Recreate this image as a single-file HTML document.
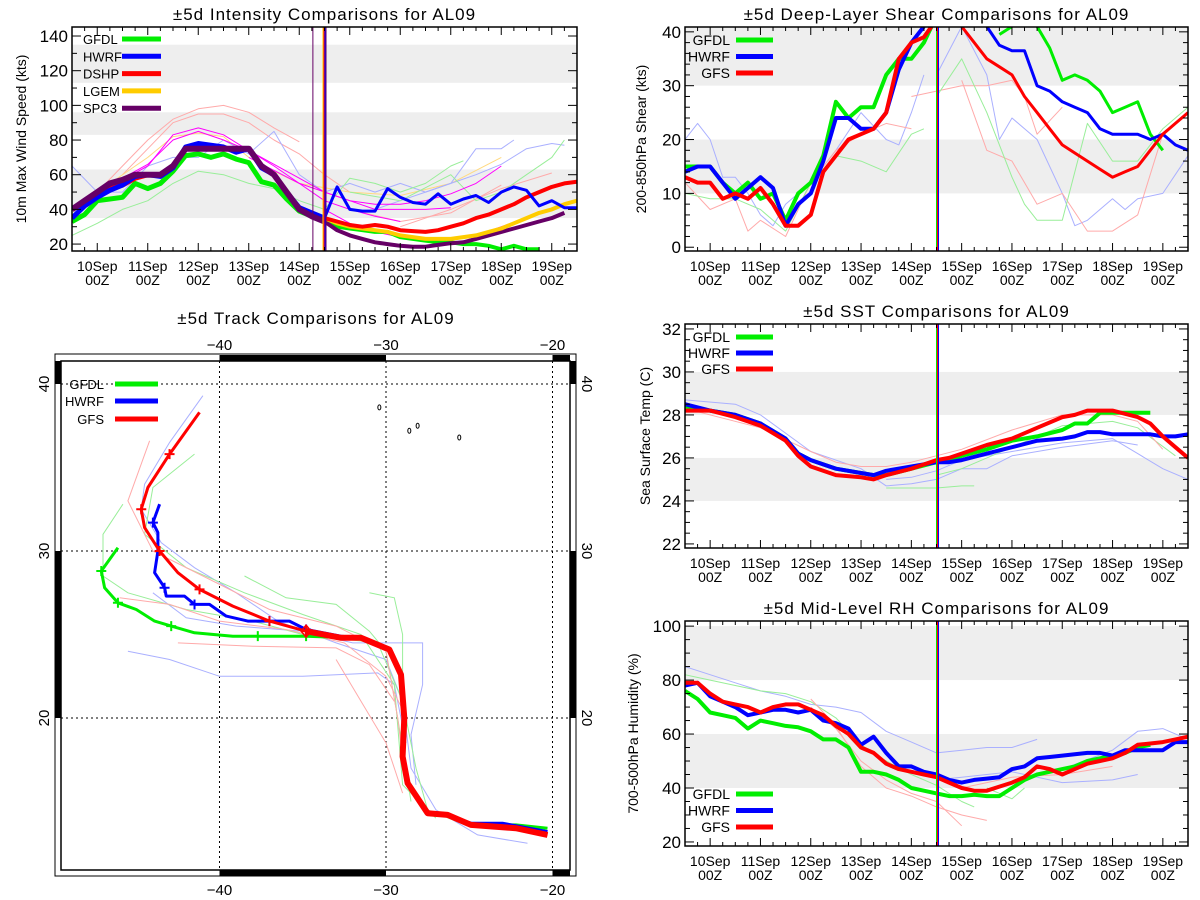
<!DOCTYPE html>
<html><head><meta charset="utf-8"><title>AL09 Comparisons</title>
<style>
html,body{margin:0;padding:0;background:#fff;}
svg{display:block;font-family:"Liberation Sans",sans-serif;}
</style></head>
<body>
<svg id="root" width="1200" height="900" viewBox="0 0 1200 900" xmlns="http://www.w3.org/2000/svg"></svg>
<script>
// ---------- Intensity data (day offset from 10Sep 00Z, kt) ----------
const intDays = [-0.5,-0.25,0,0.25,0.5,0.75,1,1.25,1.5,1.75,2,2.25,2.5,2.75,3,3.25,3.5,3.75,4,4.25,4.5];
const intSPC3Early = [40,45,50,55,57,60,60,60,65,75,75,75,75,75,75,65,60,50,40,36,33];
const intHWRFEarly = [35,42,47,51,54,59,60,59,64,76,78,77,76,73,75,64,60,50,41,38,35];
const intGFDLEarly = [33,37,45,46,47,55,52,55,62,71,72,70,72,69,67,56,54,46,39,36,33];
const intDSHPEarly = [40,45,50,53,54,58,60,60,65,75,75,75,75,75,75,65,60,50,40,36,35];
const intLateDays = [4.5,4.75,5,5.25,5.5,5.75,6,6.25,6.5,6.75,7,7.25,7.5,7.75,8,8.25,8.5,8.75,9,9.25,9.5];
const intHWRFLate = [35,53,40,39,39,52,47,44,43,49,43,46,48,44,50,53,51,42,45,41,41];
const intGFDLLate = [33,30,29,28,27,27,24,23,22,21,21,20,20,19,17,19,17,17,null,null,null];
const intDSHPLate = [35,33,31,30,31,30,28,27.5,27,28,30,32,35,37,40,43,47,50,53,55,56];
const intLGEMLate = [35,32,30,29,28,27,25,24,23,23,23,24,25,27,29,32,35,38,40,43,45];
const intSPC3Late = [33,28,25,23,21,20,19,18.5,18.5,19.5,20.5,21,23,25,27,29,31,33,35,38,null];
const intThinPink = [[[0,50],[0.5,65],[1,80],[1.5,92],[2,98],[2.5,100],[3,96],[3.5,87],[4,79]],
  [[0.5,60],[1,75],[1.5,90],[2,95],[2.5,95],[3,90],[3.5,80],[4,72],[4.5,60],[5,50]],
  [[5,40],[6,33],[7,38],[8,54]],[[6,30],[7,40],[8,52],[9,61]]];
const intThinMagenta = [[[-0.5,40],[0,48],[0.5,57],[1,65],[1.5,83],[2,87],[2.5,83],[3,74],[3.5,65],[4,55],[4.5,45],[5,40],[5.5,36],[6,33]],
  [[0,48],[0.5,58],[1,66],[1.5,80],[2,85],[2.5,80],[3,74],[3.5,66],[4,58],[4.5,50],[5,45],[5.5,43],[6,43],[6.5,45],[7,49],[7.5,55],[8,65]],
  [[4.5,40],[5,32],[5.5,27],[6,24],[6.5,23],[7,23],[7.5,25],[8,30],[8.5,35],[9,40]],
  [[3,70],[4,55],[5,45],[5.5,40],[6,40],[6.5,40],[7,41]]];
const intThinBlue = [[[-0.5,65],[0,50],[0.5,50],[1,65],[1.5,70],[2,70],[2.5,80],[3,72],[3.5,85],[4,60],[4.5,50],[5,55],[5.5,50],[6,55],[6.5,50],[7,55],[7.5,75],[8,75],[8.25,80]],
  [[5.5,40],[6,45],[6.5,50],[7,55],[7.5,60],[8,66],[8.5,75],[9,78],[9.25,77]]];
const intThinGreen = [[[-0.5,25],[0,32],[0.5,40],[1,45],[1.5,55],[2,62],[2.5,60],[3,55],[3.5,52],[4,45],[4.5,40],[5,58],[5.5,55],[6,50],[6.5,55],[7,65],[7.25,68]],
  [[5,50],[6,45],[7,60],[7.5,45],[8,50],[8.5,60],[9,70],[9.25,80]]];
const intThinOrange = [[[0,50],[1,70],[1.5,82],[2,84],[2.5,82],[3,70],[3.5,62],[4,55],[5,50],[6,48],[7,55],[8,70]]];

// ---------- Shear data ----------
const shDaysA = [-0.5,-0.25,0,0.25,0.5,0.75,1,1.25,1.5,1.75,2,2.25,2.5,2.75,3,3.25,3.5,3.75,4,4.25,4.4];
const shGFDLA = [15,15,15,12,10,12,9,10,5,10,12,17,27,24,26,26,32,35,35,38,41];
const shHWRFA = [14,15,15,12,9,11,13,11,4,8,10,16,24,24,22,22,25,33,38,41,null];
const shGFSA  = [13,12,12,9,10,9,11,8,4,4,6,14,17,20,21,22,25,35,38,39,41];
const shDaysB = [5,5.25,5.5,5.75,6,6.25,6.5,6.75,7,7.25,7.5,7.75,8,8.25,8.5,8.75,9,9.25,9.5];
const shGFDLB = [null,null,null,39.5,41,null,41,37,31,32,31,29,25,26,27,21,18,null,null];
const shHWRFB = [null,null,41,37.5,36.5,36.5,30,29,27,26,25,22,21,21,21,20,21,19,18];
const shGFSB  = [41,38,35,33.5,32,28,25,22,19,17.5,16,14.5,13,14,15,18,21,23,25];
const shThinBlue = [[[-0.5,20],[-0.25,23],[0,20],[0.25,13],[0.5,13],[0.75,10],[1,6],[1.25,4],[1.5,8],[2,12],[2.5,18],[3,25],[3.5,20],[3.75,19],[4,25],[4.25,32]],
  [[4.5,32],[5,41],[5.5,32],[5.75,20],[6,24],[6.5,20],[7,10],[7.25,4],[7.5,5],[8,9],[8.25,7],[8.5,9],[9,10],[9.5,17]]];
const shThinRed = [[[-0.5,12],[0,7],[0.5,9],[0.75,3],[1,5],[1.5,2],[2,12],[2.5,18],[3,21],[3.5,23],[4,22]],
  [[4,28],[5,30],[5.5,30],[6,31],[6.25,28],[6.5,21],[7,26]],[[5,31],[5.5,18],[6,16],[6.5,8],[7,10],[7.5,3],[8,3],[8.5,6],[9,21]]];
const shThinGreen = [[[-0.5,10],[0,9],[0.5,9],[1,7],[1.5,3],[2,12],[2.5,17],[3,16],[3.5,14],[4,21],[4.25,22]],
  [[4.5,28],[5,35],[5.5,25],[6,13],[6.25,8],[6.5,5],[7,5],[7.5,23],[8,16],[8.5,16],[9,22],[9.5,26]]];

// ---------- SST data ----------
const sstDays = [-0.5,0,0.5,1,1.5,1.75,2,2.5,3,3.25,3.5,4,4.5,4.75,5,5.5,6,6.5,7,7.25,7.5,7.75,8,8.5,8.75,9,9.25,9.5];
const sstHWRF = [28.5,28.2,28.0,27.6,26.9,26.2,25.9,25.5,25.3,25.2,25.4,25.6,25.8,25.8,25.9,26.2,26.5,26.8,26.9,27.0,27.2,27.2,27.1,27.1,27.1,27.0,27.0,27.1];
const sstGFDL = [28.4,28.2,28.0,27.6,26.9,26.2,25.9,25.5,25.3,25.2,25.2,25.5,25.8,25.9,26.1,26.4,26.8,27.0,27.3,27.6,27.6,28.1,28.1,28.1,28.1,null,null,null];
const sstGFS  = [28.2,28.2,27.9,27.5,26.8,26.1,25.6,25.2,25.1,25.0,25.2,25.5,25.9,26.0,26.2,26.6,26.9,27.4,27.9,28.0,28.2,28.2,28.2,27.9,27.6,27.0,26.5,26.0];
const sstThin = [["#aab0ff",[[-0.5,28.7],[0.5,28.5],[1,28.0],[2,26.3],[3,25.5],[3.5,24.7],[4,24.8],[4.5,25.0],[5,25.5],[5.5,25.5],[6,26.1],[7,26.5],[8,26.8],[8.5,26.6]]],
  ["#aab0ff",[[3.5,25.0],[4,25.1],[4.5,25.4],[5,25.9],[6,26.3],[7,26.7],[8,26.9],[8.5,26.2],[9,25.5],[9.5,25.0]]],
  ["#99ee99",[[3.5,24.6],[4,24.6],[4.5,24.6],[5,24.7],[5.25,24.7]]],
  ["#99ee99",[[4.5,25.2],[5,25.5],[6,26.5],[7,27.5],[8,27.7],[8.5,27.4],[9.25,26.1]]],
  ["#ffaaaa",[[-0.5,28.3],[1,27.4],[2,26.3],[2.5,25.8],[3,25.6],[3.5,25.6],[4,25.8],[5,26.4],[6,27.3],[7,28.0],[8,28.0],[8.5,27.7],[9,26.4]]]];

// ---------- RH data ----------
const rhDays = [-0.5,-0.25,0,0.25,0.5,0.75,1,1.25,1.5,1.75,2,2.25,2.5,2.75,3,3.25,3.5,3.75,4,4.25,4.5,4.75,5,5.25,5.5,5.75,6,6.25,6.5,6.75,7,7.25,7.5,7.75,8,8.25,8.5,8.75,9,9.25,9.5];
const rhGFDL = [76,73,68,67,66,62,65,64,63,62.5,61,58,58,55,46,46,45,43,40,39,38,37,37,37.5,37,37,40,43,45,46,47,48,50,51,52,53,55,56,null,null,null];
const rhHWRF = [78,79,74,72,70,67,68,69,69,68,69,65,64,62,56,59,53,48,48,46,45,43,42,43,43.5,44,47,48,51,51.5,52,52.5,53,53,52,54,54,54,54,57,57];
const rhGFS  = [79,79,75,72,71,70,68,70,71,71,69,67,63,60,55,53,49,47,46,45,44,42,40,39,39,40.5,42,44,48,47,45,47,49,50,51,53,56,56.5,57,58,59];
const rhThin = [["#aab0ff",[[-0.5,85],[0,82],[0.5,79],[1,76],[1.5,74],[2,71],[2.5,70],[3,68],[3.5,61],[4,57],[4.5,53],[5,54],[5.5,55],[6,55],[6.5,58]]],
  ["#aab0ff",[[4.5,43],[5,44],[6,46],[7,42],[8,43],[8.5,45]]],
  ["#aab0ff",[[7,47],[8,54],[8.5,61],[9,62],[9.5,58]]],
  ["#99ee99",[[-0.5,82],[0,80],[0.5,78],[1,76],[1.5,75],[2,72],[2.5,66],[3,56],[3.5,50],[4,45],[4.5,41],[5,35],[5.25,33]]],
  ["#99ee99",[[5.5,40],[6,36],[6.25,40]]],
  ["#ffaaaa",[[2,70],[2.5,62],[3,50],[3.5,43],[4,38],[4.5,35],[5,26]]],
  ["#ffaaaa",[[2,73],[2.5,63],[3,48],[3.5,40],[4,37],[4.5,33],[5,30],[5.5,28]]],
  ["#ffaaaa",[[5,40],[6,44],[7,45],[8,48]]]];

// ---------- Track data (lon, lat) ----------
const trkGFS = [[-41.2,38.3],[-43.0,35.8],[-44.3,33.8],[-44.7,32.5],[-44.5,31.4],[-43.6,30.0],[-42.5,28.7],[-41.2,27.7],[-39.2,26.7],[-37.0,25.8],[-34.8,25.2],[-32.7,24.8],[-31.5,24.8],[-29.8,24.1],[-29.1,22.6],[-28.9,20.0],[-29.0,17.7],[-28.7,16.1],[-27.5,14.3],[-26.3,14.2],[-24.9,13.6],[-22.2,13.4],[-20.3,13.0]];
const trkHWRF = [[-43.6,32.8],[-44.0,31.7],[-43.7,31.1],[-43.7,30.0],[-43.9,28.7],[-43.3,27.8],[-43.2,27.3],[-42.1,27.3],[-41.5,26.8],[-40.6,26.8],[-39.6,26.1],[-38.3,25.8],[-35.8,25.8],[-34.8,25.3],[-32.7,24.9],[-31.5,24.8],[-29.8,24.1],[-29.1,22.6],[-28.9,20.0],[-29.0,17.7],[-28.7,16.1],[-27.5,14.3],[-26.3,14.2],[-24.9,13.7],[-23.0,13.7],[-20.3,13.2]];
const trkGFDL = [[-46.1,30.2],[-47.1,28.8],[-46.9,27.8],[-46.1,26.9],[-45.0,26.5],[-43.9,25.8],[-42.9,25.5],[-41.5,25.1],[-39.2,24.9],[-34.8,24.9],[-32.2,24.8],[-31.5,24.8],[-29.8,24.1],[-29.1,22.6],[-28.9,20.0],[-29.0,17.7],[-28.7,16.1],[-27.5,14.3],[-26.3,14.2],[-24.9,13.6],[-22.2,13.6],[-20.3,13.4]];
const trkGFSMarks = [[-43.0,35.8],[-44.7,32.5],[-43.6,30.0],[-41.2,27.7],[-37.0,25.8],[-34.8,25.2]];
const trkHWRFMarks = [[-44.0,31.7],[-43.3,27.8],[-41.5,26.8],[-37.0,25.8],[-34.8,25.3]];
const trkGFDLMarks = [[-47.1,28.8],[-46.1,26.9],[-42.9,25.5],[-37.7,24.9],[-34.8,24.9]];
const trkThin = [["#aab0ff",[[-41.0,39.3],[-43.0,36.5],[-44.5,34.0],[-44.7,32.5],[-43.5,30.5],[-41.5,29.0],[-39.0,27.5],[-36.5,25.8],[-33.0,24.5],[-30.0,23.5],[-29.0,21.0],[-28.5,17.0],[-27.0,14.5],[-24.5,13.0],[-21.5,12.5]]],
  ["#aab0ff",[[-45.5,24.0],[-43.0,23.5],[-40.0,22.5],[-35.0,22.5],[-30.5,22.7],[-29.5,22.0],[-28.8,18.5]]],
  ["#aab0ff",[[-44.0,27.5],[-42.0,26.0],[-39.0,25.5],[-35.0,25.2],[-32.0,24.5],[-27.8,24.5],[-27.8,22.0],[-28.5,19.0],[-28.2,16.0]]],
  ["#99ee99",[[-45.8,32.8],[-47.0,31.0],[-47.0,28.5],[-45.5,27.5],[-42.0,26.5],[-38.0,25.8],[-35.0,25.0],[-30.5,24.5],[-29.0,21.0],[-28.2,17.0],[-27.5,14.5],[-25.0,13.5]]],
  ["#99ee99",[[-41.5,35.8],[-44.0,33.8],[-44.5,31.0],[-42.0,29.0],[-38.5,27.5],[-35.0,26.2],[-31.5,25.0],[-29.5,22.0],[-29.0,16.0],[-27.0,14.0]]],
  ["#99ee99",[[-38.5,28.5],[-36.0,27.2],[-33.0,26.8],[-31.0,25.2],[-30.0,24.0],[-29.3,20.0],[-28.5,15.0]]],
  ["#99ee99",[[-31.0,27.5],[-29.5,27.2],[-29.0,25.0],[-29.0,21.0]]],
  ["#ffaaaa",[[-44.2,36.6],[-45.5,33.0],[-44.0,30.0],[-41.0,28.5],[-37.0,26.5],[-33.0,25.5],[-30.0,24.0],[-29.3,20.0],[-28.8,16.0]]],
  ["#ffaaaa",[[-46.0,27.2],[-43.0,26.8],[-40.0,25.8],[-36.0,25.3],[-32.5,24.5],[-30.0,22.5],[-29.0,20.5]]],
  ["#ffaaaa",[[-42.5,24.5],[-38.0,24.3],[-33.0,24.2],[-31.0,23.2],[-29.5,21.0]]],
  ["#ffaaaa",[[-33.0,23.5],[-31.5,21.0],[-30.0,18.5],[-29.0,15.5]]]];

const NS = "http://www.w3.org/2000/svg";
const root = document.getElementById('root');
function mk(tag, attrs, parent){ const e=document.createElementNS(NS,tag); for(const k in attrs) e.setAttribute(k,attrs[k]); (parent||root).appendChild(e); return e; }
function txt(s, x, y, size, anchor, parent, rot){ const t=mk('text',{x:x,y:y,'font-size':size,'text-anchor':anchor||'middle',fill:'#000'},parent); if(rot!==undefined) t.setAttribute('transform','rotate('+rot+' '+x+' '+y+')'); t.textContent=s; return t; }

function timePanel(cfg){
  const g = mk('g',{});
  
  
  const X = d => cfg.x0 + (d + 0.5) / 10 * (cfg.x1 - cfg.x0);
  const Y = v => cfg.y1 - (v - cfg.vmin) / (cfg.vmax - cfg.vmin) * (cfg.y1 - cfg.y0);
  const clip = 'clip-' + cfg.name;
  const cp = mk('clipPath',{id:clip},g); mk('rect',{x:cfg.x0,y:cfg.y0,width:cfg.x1-cfg.x0,height:cfg.y1-cfg.y0},cp);
  cfg.bands.forEach(b=>{
    const r = mk('rect',{x:cfg.x0,y:Math.max(cfg.y0,Y(b[1])),width:cfg.x1-cfg.x0,height:Math.min(cfg.y1,Y(b[0]))-Math.max(cfg.y0,Y(b[1])),fill:'#eeeeee'},g);
    
    
  });
  const pg = mk('g',{'clip-path':'url(#'+clip+')'},g);
  function line(pts, color, w, nm){
    let d='', pen=false;
    pts.forEach(p=>{ if(p[1]===null||p[1]===undefined){pen=false;return;} d += (pen?'L':'M') + X(p[0]).toFixed(1)+' '+Y(p[1]).toFixed(1)+' '; pen=true; });
    const p = mk('path',{d:d,fill:'none',stroke:color,'stroke-width':w,'stroke-linejoin':'round'},pg);
    
    
  }
  (cfg.thin||[]).forEach(t=>line(t[1],t[0],1,'ensemble-member-line'));
  cfg.series.forEach(s=>{ line(s.days.map((d,i)=>[d,s.vals[i]]), s.color, s.w||4, s.name); });
  (cfg.vlines||[]).forEach(v=>{ const l=mk('line',{x1:X(v[0]),x2:X(v[0]),y1:cfg.y0,y2:cfg.y1,stroke:v[1],'stroke-width':1},g);   });
  const fr = mk('rect',{x:cfg.x0,y:cfg.y0,width:cfg.x1-cfg.x0,height:cfg.y1-cfg.y0,fill:'none',stroke:'#000','stroke-width':1.5},g);
  
  
  for(let q=-1;q<=37;q++){ const d=q*0.25; if(d<=-0.5||d>=9.5) continue; const x=X(d); const L=(q%4===0)?8:4;
    mk('line',{x1:x,x2:x,y1:cfg.y1,y2:cfg.y1-L,stroke:'#000','stroke-width':1},g);
    mk('line',{x1:x,x2:x,y1:cfg.y0,y2:cfg.y0+L,stroke:'#000','stroke-width':1},g); }
  for(let d=0; d<=9; d++){ const x=X(d);
    const t1=txt((10+d)+'Sep', x, cfg.y1+20, 14, 'middle', g);  
    const t2=txt('00Z', x, cfg.y1+34, 14, 'middle', g);   }
  for(let v=cfg.minor0; v<=cfg.vmax; v+=cfg.minor){ if(v<cfg.vmin) continue; const y=Y(v); const major = Math.abs(((v-cfg.tick0)/cfg.major) - Math.round((v-cfg.tick0)/cfg.major))<1e-6; const L=major?9:5;
    mk('line',{x1:cfg.x0,x2:cfg.x0+L,y1:y,y2:y,stroke:'#000','stroke-width':1},g);
    mk('line',{x1:cfg.x1,x2:cfg.x1-L,y1:y,y2:y,stroke:'#000','stroke-width':1},g);
    if(major){ const t=txt(String(v), cfg.x0-4, y+6, 17, 'end', g);   } }
  const tt = txt(cfg.title, (cfg.x0+cfg.x1)/2, cfg.y0-7, 17, 'middle', g);
  tt.setAttribute('letter-spacing','1');
  
  
  const yl = txt(cfg.ylabel, cfg.ylx, (cfg.y0+cfg.y1)/2, 14, 'middle', g, -90);
  
  
  cfg.legend.items.forEach((it,i)=>{ const y = cfg.legend.y + i*cfg.legend.dy;
    const lt = txt(it[0], cfg.legend.tx, y+5, cfg.legend.fs||14, cfg.legend.anchor||'start', g);
    
    
    const ll = mk('line',{x1:cfg.legend.lx0,x2:cfg.legend.lx1,y1:y,y2:y,stroke:it[1],'stroke-width':5},g);
    
     });
}

const C = {g:'#00ee00', b:'#0000ff', r:'#ff0000', o:'#ffcc00', p:'#660066'};

timePanel({name:'intensity-chart', x0:72, x1:577, y0:27, y1:251, vmin:16.0, vmax:145.2,
  tick0:20, major:20, minor:10, minor0:20, bands:[[35,63],[83,96],[113,135]],
  title:'±5d Intensity Comparisons for AL09', ylabel:'10m Max Wind Speed (kts)', ylx:26,
  thin: [].concat(intThinPink.map(a=>['#ffaaaa',a]), intThinOrange.map(a=>['#ffd980',a]), intThinBlue.map(a=>['#aab0ff',a]), intThinGreen.map(a=>['#99ee99',a]), intThinMagenta.map(a=>['#ff00ff',a])),
  series:[
    {name:'gfdl-line-early',days:intDays,vals:intGFDLEarly,color:C.g,w:5},
    {name:'dshp-line-early',days:intDays,vals:intDSHPEarly,color:C.r,w:5},
    {name:'hwrf-line-early',days:intDays,vals:intHWRFEarly,color:C.b,w:5},
    {name:'spc3-line-early',days:intDays,vals:intSPC3Early,color:C.p,w:6},
    {name:'gfdl-line',days:intLateDays,vals:intGFDLLate,color:C.g},
    {name:'spc3-line',days:intLateDays,vals:intSPC3Late,color:C.p},
    {name:'lgem-line',days:intLateDays,vals:intLGEMLate,color:C.o},
    {name:'dshp-line',days:intLateDays,vals:intDSHPLate,color:C.r},
    {name:'hwrf-line',days:intLateDays,vals:intHWRFLate,color:C.b,w:3}],
  vlines:[[4.27,'#660066'],[4.47,'#ffcc00'],[4.49,'#ff0000'],[4.51,'#0000ff'],[4.53,'#660066']],
  legend:{tx:83, fs:13, lx0:122, lx1:161, y:39, dy:17.3, items:[['GFDL',C.g],['HWRF',C.b],['DSHP',C.r],['LGEM',C.o],['SPC3',C.p]]}});

timePanel({name:'shear-chart', x0:685, x1:1188, y0:27, y1:251, vmin:-0.7, vmax:40.9,
  tick0:0, major:10, minor:2, minor0:0, bands:[[10,20],[30,41]],
  title:'±5d Deep-Layer Shear Comparisons for AL09', ylabel:'200-850hPa Shear (kts)', ylx:646,
  thin: [].concat(shThinBlue.map(a=>['#aab0ff',a]), shThinRed.map(a=>['#ffaaaa',a]), shThinGreen.map(a=>['#99ee99',a])),
  series:[
    {name:'gfdl-line-early',days:shDaysA,vals:shGFDLA,color:C.g},
    {name:'hwrf-line-early',days:shDaysA,vals:shHWRFA,color:C.b},
    {name:'gfs-line-early',days:shDaysA,vals:shGFSA,color:C.r},
    {name:'gfdl-line',days:shDaysB,vals:shGFDLB,color:C.g,w:3},
    {name:'hwrf-line',days:shDaysB,vals:shHWRFB,color:C.b,w:3},
    {name:'gfs-line',days:shDaysB,vals:shGFSB,color:C.r,w:3}],
  vlines:[[4.5,'#00ee00'],[4.52,'#ff0000'],[4.54,'#0000ff']],
  legend:{tx:730, anchor:'end', lx0:736, lx1:773, y:40, dy:16.5, items:[['GFDL',C.g],['HWRF',C.b],['GFS',C.r]]}});

timePanel({name:'sst-chart', x0:685, x1:1188, y0:324, y1:548, vmin:21.81, vmax:32.23,
  tick0:22, major:2, minor:0.5, minor0:22, bands:[[24,26],[28,30]],
  title:'±5d SST Comparisons for AL09', ylabel:'Sea Surface Temp (C)', ylx:650,
  thin: sstThin,
  series:[
    {name:'gfdl-line',days:sstDays,vals:sstGFDL,color:C.g},
    {name:'hwrf-line',days:sstDays,vals:sstHWRF,color:C.b},
    {name:'gfs-line',days:sstDays,vals:sstGFS,color:C.r}],
  vlines:[[4.5,'#00ee00'],[4.52,'#ff0000'],[4.54,'#0000ff']],
  legend:{tx:730, anchor:'end', lx0:736, lx1:773, y:337, dy:16, items:[['GFDL',C.g],['HWRF',C.b],['GFS',C.r]]}});

timePanel({name:'rh-chart', x0:685, x1:1188, y0:621, y1:846, vmin:18.5, vmax:101.9,
  tick0:20, major:20, minor:5, minor0:20, bands:[[40,60],[80,100]],
  title:'±5d Mid-Level RH Comparisons for AL09', ylabel:'700-500hPa Humidity (%)', ylx:638,
  thin: rhThin,
  series:[
    {name:'gfdl-line',days:rhDays,vals:rhGFDL,color:C.g},
    {name:'hwrf-line',days:rhDays,vals:rhHWRF,color:C.b},
    {name:'gfs-line',days:rhDays,vals:rhGFS,color:C.r}],
  vlines:[[4.5,'#00ee00'],[4.52,'#ff0000'],[4.54,'#0000ff']],
  legend:{tx:730, anchor:'end', lx0:736, lx1:773, y:794, dy:16.5, items:[['GFDL',C.g],['HWRF',C.b],['GFS',C.r]]}});

(function(){
  const g = mk('g',{});
  
  
  const X = lon => 386 + (lon + 30) * 16.65;
  const Y = lat => 551 - (lat - 30) * 16.7;
  const ix0=61, ix1=570, iy0=361, iy1=870;
  const t = txt('±5d Track Comparisons for AL09', 316, 324, 17, 'middle', g);
  t.setAttribute('letter-spacing','1');
  
  
  mk('rect',{x:55,y:354,width:521,height:522,fill:'none',stroke:'#000','stroke-width':1},g);
  mk('rect',{x:ix0,y:iy0,width:ix1-ix0,height:iy1-iy0,fill:'none',stroke:'#000','stroke-width':1.5},g);
  [[X(-40),X(-30)],[X(-20),ix1]].forEach(s=>{ mk('rect',{x:s[0],y:iy0-6,width:s[1]-s[0],height:6,fill:'#000'},g); mk('rect',{x:s[0],y:iy1,width:s[1]-s[0],height:6,fill:'#000'},g); });
  [[iy0,Y(40)],[Y(30),Y(20)]].forEach(s=>{ mk('rect',{x:ix0-6,y:s[0],width:6,height:s[1]-s[0],fill:'#000'},g); mk('rect',{x:ix1,y:s[0],width:6,height:s[1]-s[0],fill:'#000'},g); });
  const gridLon = [-40,-30,-20], gridLat = [40,30,20];
  gridLon.forEach(l=>{ const gl=mk('line',{x1:X(l),x2:X(l),y1:iy0,y2:iy1,stroke:'#000','stroke-width':1,'stroke-dasharray':'2,3'},g);  
    const a=txt('\u2212'+Math.abs(l), X(l), 350, 15, 'middle', g);  
    const b=txt('\u2212'+Math.abs(l), X(l), 895, 15, 'middle', g);   });
  gridLat.forEach(l=>{ const gl=mk('line',{x1:ix0,x2:ix1,y1:Y(l),y2:Y(l),stroke:'#000','stroke-width':1,'stroke-dasharray':'2,3'},g);  
    const a=txt(String(l), 49, Y(l), 15, 'middle', g, -90);  
    const b=txt(String(l), 582, Y(l), 15, 'middle', g, 90);   });
  [[-28.6,37.2],[-28.1,37.5],[-25.6,36.8],[-30.4,38.6]].forEach(p=>{ const e=mk('ellipse',{cx:X(p[0]),cy:Y(p[1]),rx:1.5,ry:2.5,fill:'none',stroke:'#000','stroke-width':1},g);   });
  const pts = a => a.map((p,i)=>(i?'L':'M')+X(p[0]).toFixed(1)+' '+Y(p[1]).toFixed(1)).join(' ');
  trkThin.forEach(t=>{ const p=mk('path',{d:pts(t[1]),fill:'none',stroke:t[0],'stroke-width':1},g);   });
  [[trkGFDL,C.g,3,trkGFDLMarks,'gfdl-track'],[trkHWRF,C.b,3,trkHWRFMarks,'hwrf-track'],[trkGFS,C.r,3,trkGFSMarks,'gfs-track']].forEach(s=>{
    const p=mk('path',{d:pts(s[0]),fill:'none',stroke:s[1],'stroke-width':s[2],'stroke-linejoin':'round'},g);
    
    
    s[3].forEach(m=>{ const x=X(m[0]), y=Y(m[1]); mk('path',{d:'M'+(x-5)+' '+y+'H'+(x+5)+'M'+x+' '+(y-5)+'V'+(y+5),stroke:s[1],'stroke-width':2},g); });
  });
  const common = trkGFS.slice(10);
  const cpath = mk('path',{d:pts(common),fill:'none',stroke:C.r,'stroke-width':6,'stroke-linejoin':'round'},g);
  
  
  mk('path',{d:'M'+X(-34.8)+' '+(Y(25.2)-6)+'l5 6l-5 6l-5 -6z',fill:'none',stroke:C.r,'stroke-width':1.5},g);
  [['GFDL',C.g,384],['HWRF',C.b,401],['GFS',C.r,419]].forEach(it=>{
    const lt=txt(it[0], 104, it[2]+5, 13, 'end', g);
    
    
    const ll=mk('line',{x1:115,x2:158,y1:it[2],y2:it[2],stroke:it[1],'stroke-width':5},g);
    
    
  });
})();
</script>
</body></html>
